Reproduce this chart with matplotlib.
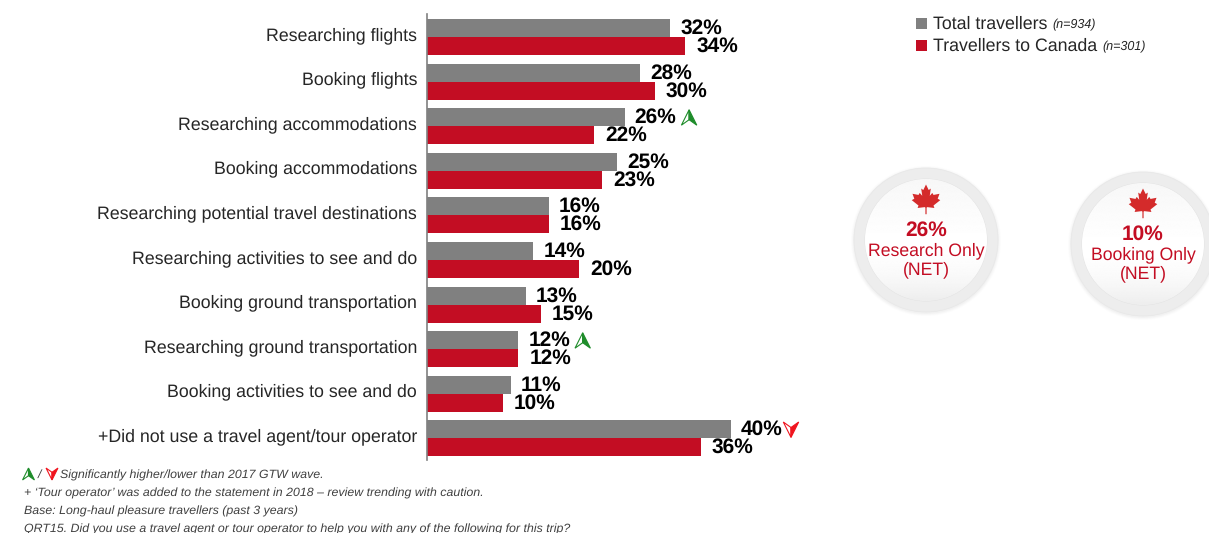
import numpy as np
import matplotlib
matplotlib.use('Agg')
import matplotlib.pyplot as plt
from matplotlib.patches import Circle, Polygon

categories = ['Researching flights', 'Booking flights', 'Researching accommodations',
              'Booking accommodations', 'Researching potential travel destinations',
              'Researching activities to see and do', 'Booking ground transportation',
              'Researching ground transportation', 'Booking activities to see and do',
              '+Did not use a travel agent/tour operator']
total = [32, 28, 26, 25, 16, 14, 13, 12, 11, 40]
canada = [34, 30, 22, 23, 16, 20, 15, 12, 10, 36]
# index into categories -> direction of the significance arrow on the total bar
sig_total = {2: 'up', 7: 'up', 9: 'down'}

series_names = ['Total travellers', 'Travellers to Canada']
series_n = ['(n=934)', '(n=301)']
nets = [('26%', 'Research Only', '(NET)'), ('10%', 'Booking Only', '(NET)')]
notes = ['+ \u2018Tour operator\u2019 was added to the statement in 2018 \u2013 review trending with caution.',
         'Base: Long-haul pleasure travellers (past 3 years)',
         'QRT15. Did you use a travel agent or tour operator to help you with any of the following for this trip?']

GREY = '#808080'
RED = '#C30D23'
TEXT = '#262626'
W, H = 1209, 533

plt.rcParams['font.family'] = ['Liberation Sans', 'DejaVu Sans']
plt.rcParams['text.hinting'] = 'no_hinting'

fig = plt.figure(figsize=(W / 100, H / 100), dpi=100, facecolor='white')

# bar area: 7.6 px per percentage point, ten rows of 44.6 px
ax = fig.add_axes([427 / W, 1 - 460 / H, 760 / W, 446 / H])
ax.set_xlim(0, 100)
ax.set_ylim(9.5, -0.5)
ax.patch.set_alpha(0)
for s in ['top', 'right', 'bottom']:
    ax.spines[s].set_visible(False)
ax.spines['left'].set_color(GREY)
ax.spines['left'].set_linewidth(1.2)
ax.set_xticks([])
ax.set_yticks([])

y = np.arange(len(categories)) + 0.016
h = 18 / 44.6
ax.barh(y - h / 2, total, height=h, color=GREY)
ax.barh(y + h / 2, canada, height=h, color=RED)

# overlay in pixel coordinates for everything outside the bars
ov = fig.add_axes([0, 0, 1, 1])
ov.set_xlim(0, W)
ov.set_ylim(H, 0)
ov.axis('off')
ov.patch.set_alpha(0)


def arrow(x, y0, up=True, size=1.0, color='#1E8C2A'):
    sgn = 1 if up else -1
    pts_l = [(0, -7), (-7, 7), (0, 2)]
    pts_r = [(0, -7), (7, 7), (0, 2)]
    ov.add_patch(Polygon([(x + a * size, y0 + sgn * b * size) for a, b in pts_l],
                         closed=True, fc='white', ec=color, lw=0.8))
    ov.add_patch(Polygon([(x + a * size, y0 + sgn * b * size) for a, b in pts_r],
                         closed=True, fc=color, ec=color, lw=0.8))


for i, cat in enumerate(categories):
    ax.annotate(cat, xy=(0, i), xytext=(-10, 1), textcoords='offset pixels',
                ha='right', va='center', fontsize=12.77, color=TEXT)
    ax.annotate(f'{total[i]}%', xy=(total[i], i), xytext=(10, 8), textcoords='offset pixels',
                ha='left', va='center', fontsize=15, fontweight='bold', color='black')
    ax.annotate(f'{canada[i]}%', xy=(canada[i], i), xytext=(11, -10), textcoords='offset pixels',
                ha='left', va='center', fontsize=15, fontweight='bold', color='black')
    if i in sig_total:
        px = 427 + total[i] * 7.6 + 63
        py = 14 + (i + 0.5) * 44.6 - 8
        if sig_total[i] == 'up':
            arrow(px + 1.5, py, True, size=1.1)
        else:
            arrow(px - 3, py, False, size=1.1, color='#F0141E')

# legend
for row, (name, n, col) in enumerate(zip(series_names, series_n, [GREY, RED])):
    ly = 23.5 + row * 21.5
    ov.add_patch(plt.Rectangle((916, ly - 5.5), 11, 11, fc=col, ec='none'))
    t = ov.text(933, ly + 1, name, fontsize=12.75, color=TEXT, va='center', ha='left')
    bb = t.get_window_extent(fig.canvas.get_renderer())
    ov.text(bb.x1 + 5, ly + 1.5, n, fontsize=9, style='italic', color=TEXT, va='center', ha='left')

# maple leaf outline, unit box centred on the leaf
leaf = [(0, -1), (-.18, -.62), (-.32, -.72), (-.25, -.22), (-.42, -.42), (-.5, -.28), (-.9, -.36),
        (-.78, -.02), (-.95, .08), (-.5, .45), (-.56, .62), (-.08, .56), (-.04, .6), (-.04, 1.05),
        (.04, 1.05), (.04, .6), (.08, .56), (.56, .62), (.5, .45), (.95, .08), (.78, -.02),
        (.9, -.36), (.5, -.28), (.42, -.42), (.25, -.22), (.32, -.72), (.18, -.62)]

centres = [(926, 240), (1143, 244)]
gy, gx = np.mgrid[-1:1:200j, -1:1:200j]
shade = np.clip(1.0 - 0.07 * np.clip(gy, 0, 1) ** 2 - 0.03 * np.clip(-gy, 0, 1), 0, 1)
for (cx, cy), (pct, l1, l2) in zip(centres, nets):
    # soft drop shadow, then the ring and the inner disc
    for r, a in zip([75, 74, 73], [0.03, 0.05, 0.07]):
        ov.add_patch(Circle((cx, cy + 1), r, fc='#B0B0B0', ec='none', alpha=a))
    ov.add_patch(Circle((cx, cy), 72, fc='#EDEDED', ec='#E8E8E8', lw=0.6))
    disc = Circle((cx, cy), 61, fc='white', ec='#E2E2E2', lw=0.6)
    ov.add_patch(disc)
    im = ov.imshow(shade, extent=(cx - 61, cx + 61, cy + 61, cy - 61), cmap='gray',
                   vmin=0, vmax=1, zorder=2, aspect='auto')
    im.set_clip_path(disc)
    ov.add_patch(Polygon([(cx + a * 15, cy - 41 + b * 14.5) for a, b in leaf], closed=True,
                         fc='#D42B2B', ec='none', zorder=3))
    ov.text(cx, cy - 10, pct, fontsize=15, fontweight='bold', color=RED, ha='center', va='center', zorder=4)
    ov.text(cx, cy + 11, l1, fontsize=12.7, color=RED, ha='center', va='center', zorder=4)
    ov.text(cx, cy + 30, l2, fontsize=12.7, color=RED, ha='center', va='center', zorder=4)
ov.set_xlim(0, W)
ov.set_ylim(H, 0)

# footnotes
arrow(28.5, 474, True, size=0.85)
ov.text(38, 475, '/', fontsize=8.95, style='italic', color='#404040', ha='left', va='center')
arrow(52, 474, False, size=0.85, color='#F0141E')
ov.text(60, 475, 'Significantly higher/lower than 2017 GTW wave.', fontsize=8.95, style='italic',
        color='#404040', ha='left', va='center')
for k, line in enumerate(notes):
    ov.text(24, 493 + k * 18, line, fontsize=8.95, style='italic', color='#404040', ha='left', va='center')

fig.savefig('out.png', dpi=100)
